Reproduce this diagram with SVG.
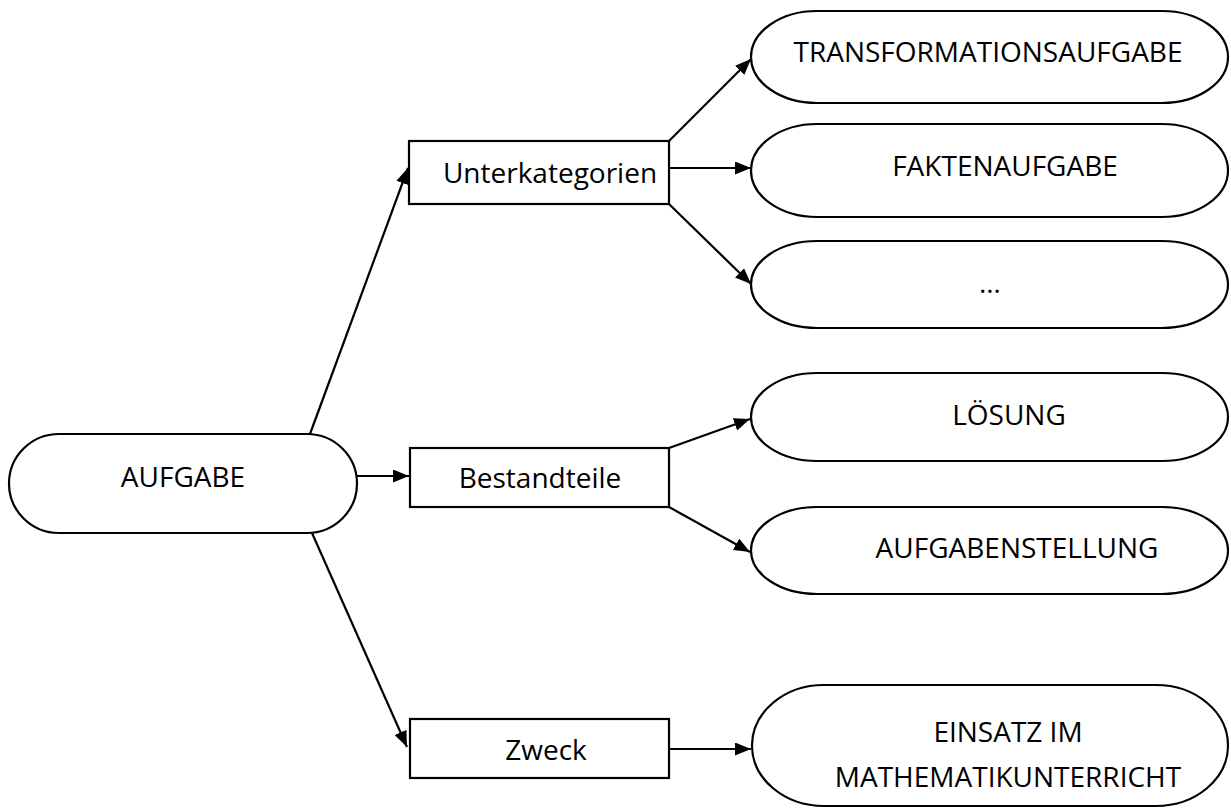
<svg xmlns="http://www.w3.org/2000/svg" width="1231" height="812" viewBox="0 0 1231 812">
<style>
.sh{fill:#fff;stroke:#000;stroke-width:2.2}
.t{font-family:"Open Sans","Liberation Sans",sans-serif;font-size:28px;fill:#000;text-anchor:middle}
.c{stroke:#000;stroke-width:2.2;fill:none;marker-end:url(#ah)}
</style>
<defs>
<marker id="ah" markerUnits="userSpaceOnUse" markerWidth="18" markerHeight="14" refX="16" refY="6.5" orient="auto">
<path d="M0,0 L16,6.5 L0,13 z" fill="#000"/>
</marker>
</defs>
<rect width="1231" height="812" fill="#fff"/>
<g id="connectors">
<line class="c" x1="310" y1="434" x2="408" y2="168"/>
<line class="c" x1="357" y1="476" x2="409" y2="476"/>
<line class="c" x1="312" y1="533" x2="407" y2="747"/>
<line class="c" x1="669" y1="141" x2="751" y2="59"/>
<line class="c" x1="669" y1="168" x2="751" y2="168"/>
<line class="c" x1="669" y1="204" x2="751" y2="284"/>
<line class="c" x1="669" y1="448" x2="750" y2="419"/>
<line class="c" x1="669" y1="507" x2="750" y2="552"/>
<line class="c" x1="669" y1="749" x2="751" y2="749"/>
</g>
<g id="n-aufgabe"><rect class="sh" x="9" y="434" width="348" height="99" rx="50" ry="49.5"/><text class="t" x="183" y="487">AUFGABE</text></g>
<g id="n-unterkategorien"><rect class="sh" x="409" y="141" width="260" height="63"/><text class="t" x="550" y="183">Unterkategorien</text></g>
<g id="n-bestandteile"><rect class="sh" x="410" y="448" width="259" height="59"/><text class="t" x="540" y="488">Bestandteile</text></g>
<g id="n-zweck"><rect class="sh" x="410" y="719" width="259" height="59"/><text class="t" x="546" y="760">Zweck</text></g>
<g id="n-transformationsaufgabe"><rect class="sh" x="751" y="11" width="477" height="92" rx="66" ry="46"/><text class="t" x="988" y="62">TRANSFORMATIONSAUFGABE</text></g>
<g id="n-faktenaufgabe"><rect class="sh" x="751" y="124" width="477" height="93" rx="66" ry="46.5"/><text class="t" x="1005" y="176">FAKTENAUFGABE</text></g>
<g id="n-etc"><rect class="sh" x="751" y="241" width="477" height="87" rx="66" ry="43.5"/><text class="t" x="990" y="293">…</text></g>
<g id="n-loesung"><rect class="sh" x="751" y="373" width="477" height="88" rx="66" ry="44"/><text class="t" x="1009" y="425">LÖSUNG</text></g>
<g id="n-aufgabenstellung"><rect class="sh" x="751" y="507" width="477" height="87" rx="66" ry="43.5"/><text class="t" x="1017" y="558">AUFGABENSTELLUNG</text></g>
<g id="n-einsatz"><rect class="sh" x="752" y="685" width="476" height="121" rx="72" ry="60.5"/><text class="t" x="1008" y="742">EINSATZ IM</text><text class="t" x="1008" y="787">MATHEMATIKUNTERRICHT</text></g>
</svg>
